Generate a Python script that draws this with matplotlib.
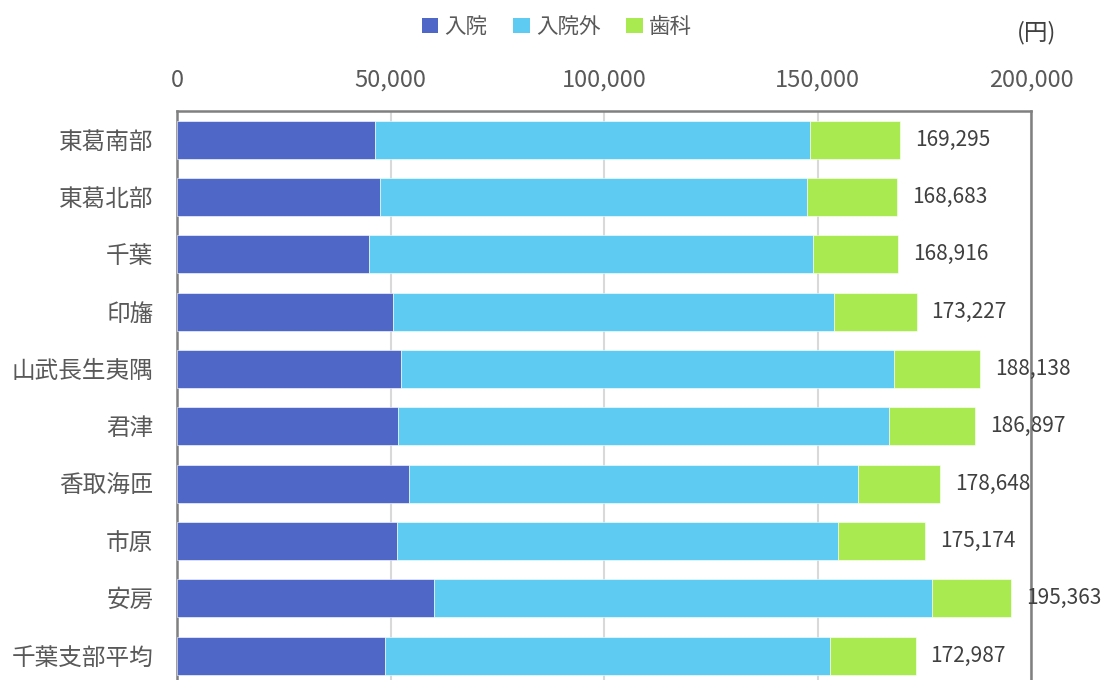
import matplotlib
matplotlib.use("Agg")
import matplotlib.pyplot as plt
import numpy as np
from matplotlib.patches import Patch

plt.rcParams['font.family'] = ['Noto Sans CJK JP', 'DejaVu Sans']

categories = ["東葛南部", "東葛北部", "千葉", "印旛", "山武長生夷隅", "君津", "香取海匝", "市原", "安房", "千葉支部平均"]
nyuin = [46350, 47520, 44940, 50640, 52430, 51810, 54310, 51500, 60240, 48690]
nyuingai = [101820, 99950, 103930, 103230, 115410, 114860, 105100, 103300, 116560, 104160]
shika = [21125, 21213, 20046, 19357, 20298, 20227, 19238, 20374, 18563, 20137]
totals = [169295, 168683, 168916, 173227, 188138, 186897, 178648, 175174, 195363, 172987]
series_names = ["入院", "入院外", "歯科"]
colors = ["#4F68C7", "#5ECBF2", "#A9EA50"]
xticks = [0, 50000, 100000, 150000, 200000]

fig = plt.figure(figsize=(11.05, 6.80), dpi=100)
ax = fig.add_axes([177/1105, -4.3/680, (1031-177)/1105, (684.3-111)/680])

y = np.arange(len(categories))
h = 0.663
n = np.array(nyuin); g = np.array(nyuingai); s = np.array(shika)
ax.barh(y, n, height=h, color=colors[0], edgecolor="white", linewidth=0.4, zorder=3)
ax.barh(y, g, left=n, height=h, color=colors[1], edgecolor="white", linewidth=0.4, zorder=3)
ax.barh(y, s, left=n + g, height=h, color=colors[2], edgecolor="white", linewidth=0.4, zorder=3)

for yi, tot, left in zip(y, totals, n + g + s):
    ax.text(left + 3500, yi, f"{tot:,}", va="center", ha="left", fontsize=15,
            color="#404040", zorder=4)

ax.set_xlim(0, 200000)
ax.set_ylim(len(categories) - 0.5, -0.5)
ax.set_yticks(y)
ax.set_yticklabels(categories, fontsize=17, color="#595959")
ax.set_xticks(xticks)
ax.set_xticklabels([f"{v:,}" for v in xticks], fontsize=17, color="#595959")
ax.xaxis.tick_top()
ax.tick_params(axis="x", length=0, pad=14)
ax.tick_params(axis="y", length=0, pad=17)
ax.grid(axis="x", color="#D9D9D9", linewidth=1.5, zorder=0)
for sp in ax.spines.values():
    sp.set_color("#808080")
    sp.set_linewidth(1.8)

handles = [Patch(facecolor=c, edgecolor="none") for c in colors]
fig.legend(handles, series_names, loc="center", bbox_to_anchor=(557/1105, 1 - 27/680),
           ncol=3, frameon=False, fontsize=15.5, handlelength=0.75, handleheight=0.75,
           handletextpad=0.3, columnspacing=1.2, labelcolor="#595959")
fig.text(1037/1105, 1 - 33/680, "(円)", ha="center", va="center", fontsize=17, color="#404040")

fig.savefig("out.png", dpi=100)
